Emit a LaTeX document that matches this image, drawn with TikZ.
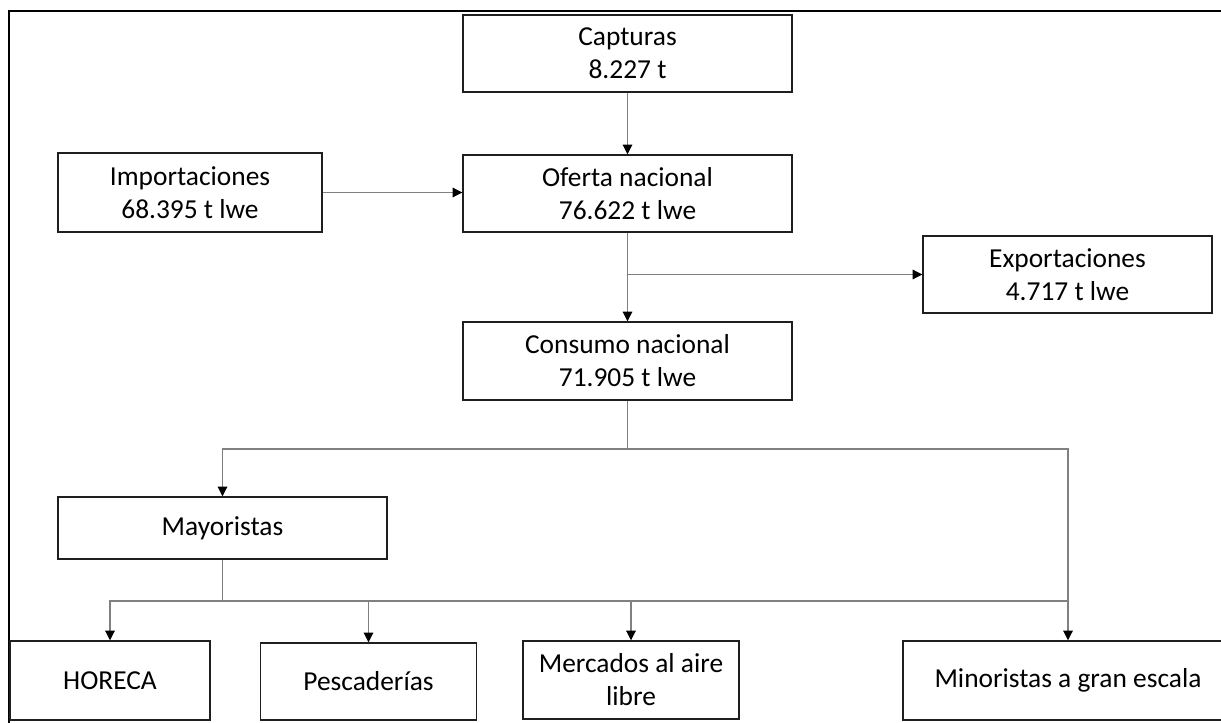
\documentclass[tikz,border=0pt]{standalone}
\usepackage{fontspec}
\setmainfont{Carlito}
\usetikzlibrary{arrows.meta,calc}

\begin{document}
\begin{tikzpicture}[x=0.02cm,y=-0.02cm,line cap=butt,
  box/.style={draw=black!88,line width=0.85pt,fill=white,align=center,
    inner sep=0pt,font=\fontsize{15.6}{18.8}\selectfont},
  link/.style={draw=black!50,line width=0.6pt},
  flow/.style={link,-{Triangle[black,length=5.5pt,width=5.5pt]}}]
  \clip (0,0) rectangle (1221,723);

  % outer frame
  \draw[black,line width=1.7pt] (9,730) -- (9,11) -- (1230,11);

  % ---- supply ----
  \node[box,minimum width=6.58cm,minimum height=1.54cm] (cap) at (627.5,53.5) {Capturas\\8.227 t};
  \node[box,minimum width=5.28cm,minimum height=1.58cm] (imp) at (190,192.5) {Importaciones\\68.395 t lwe};
  \node[box,minimum width=6.58cm,minimum height=1.54cm] (ofe) at (627.5,193.5) {Oferta nacional\\76.622 t lwe};
  \node[box,minimum width=5.78cm,minimum height=1.54cm] (exp) at (1067.5,274.5) {Exportaciones\\4.717 t lwe};
  \node[box,minimum width=6.58cm,minimum height=1.56cm] (con) at (627.5,361) {Consumo nacional\\71.905 t lwe};

  % ---- distribution ----
  \node[box,minimum width=6.58cm,minimum height=1.24cm] (may) at (222.5,528) {Mayoristas};
  \node[box,minimum width=4.00cm,minimum height=1.58cm] (hor) at (110,680.5) {HORECA};
  \node[box,minimum width=4.32cm,minimum height=1.54cm] (pes) at (368.5,681.5) {Pescaderías};
  \node[box,minimum width=4.32cm,minimum height=1.56cm] (mer) at (631,680) {Mercados al aire\\libre};
  \node[box,minimum width=6.60cm,minimum height=1.58cm] (min) at (1068,680.5) {Minoristas a gran escala};

  % branch points
  \coordinate (cb) at (627.5,449);
  \coordinate (mb) at (222.5,601);

  % ---- connectors ----
  \draw[flow] (cap) -- (ofe);
  \draw[flow] (imp.east) -- (imp.east -| ofe.west);
  \draw[flow] (ofe) -- (con);
  \draw[flow] (ofe.south |- exp.west) -- (exp.west);

  \draw[link] (con.south) -- (cb);
  \draw[flow] (cb) -| (may.north);
  \draw[flow] (cb) -| (min.north);

  \draw[link] (may.south) -- (mb);
  \draw[flow] (mb) -| (hor.north);
  \draw[flow] (mb) -| (pes.north);
  \draw[flow] (mb) -| (mer.north);
  \draw[link] (mb) -- (mb -| min.north);
\end{tikzpicture}
\end{document}
